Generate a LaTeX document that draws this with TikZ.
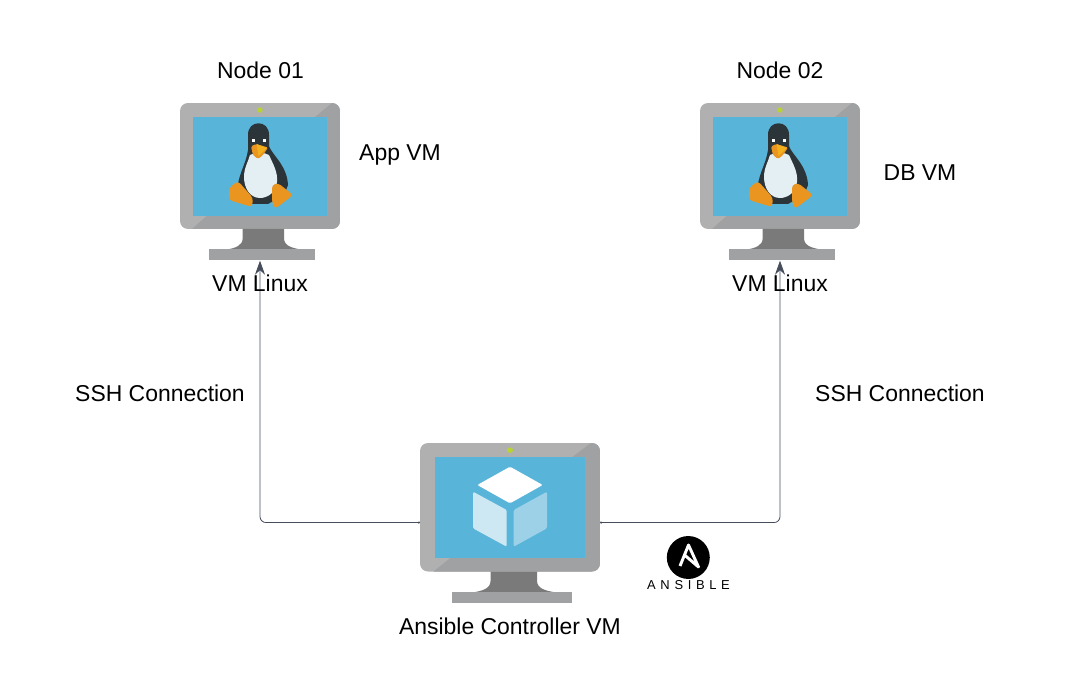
\documentclass[tikz,border=0pt]{standalone}
\usepackage{fontspec}
\setmainfont{Liberation Sans}
\usetikzlibrary{arrows.meta}

\definecolor{framelight}{RGB}{176,176,176}
\definecolor{framedark}{RGB}{160,161,162}
\definecolor{neckgray}{RGB}{122,122,122}
\definecolor{screenblue}{RGB}{89,180,217}
\definecolor{leddot}{RGB}{184,212,50}
\definecolor{tuxdark}{RGB}{42,52,57}
\definecolor{tuxbelly}{RGB}{228,239,244}
\definecolor{tuxorange}{RGB}{233,149,31}
\definecolor{tuxbeak}{RGB}{242,176,30}
\definecolor{cubeleft}{RGB}{205,232,243}
\definecolor{cuberight}{RGB}{157,209,232}
\definecolor{linkgray}{RGB}{70,78,92}

\tikzset{
  lbl/.style={font=\fontsize{17.2pt}{19pt}\selectfont, text=black, inner sep=0.75pt},
  sshlink/.style={draw=linkgray, line width=0.6pt, rounded corners=4.5pt, {Circle[length=1.6pt]}-{Stealth[length=10.5pt,width=7.5pt]}},
  vmbox/.pic={
    %Frame
    \begin{scope}
      \clip[rounded corners=6pt] (0,0) rectangle (160,126);
      \fill[framelight] (0,0) rectangle (160,126);
      \fill[framedark] (152,0) -- (135,14) -- (27,112.7) -- (12,126) -- (160,126) -- (160,0) -- cycle;
    \end{scope}
    %Screen
    \fill[screenblue] (13,14) rectangle (147,112.7);
    \fill[leddot] (80,7) circle (2pt);
    %Neck and base
    \fill[neckgray] (62.7,126) -- (62.7,135) .. controls (62.7,143) and (55,145) .. (47,146.5) -- (121,146.5) .. controls (112,145) and (104,143) .. (104,135) -- (104,126) -- cycle;
    \fill[framedark] (28.7,146.3) rectangle (134.7,156.7);
    \coordinate (-west) at (0,78);
    \coordinate (-east) at (160,78);
    \coordinate (-foot) at (80,157.7);
  },
  tux/.pic={
    %Body
    \fill[tuxdark] (248,135) .. controls (248,127) and (253,123.3) .. (258.5,123.3) .. controls (264,123.3) and (269,127) .. (269,135)
      -- (269,146) .. controls (272,155) and (287,165) .. (288,185) -- (284,195) -- (268,204) -- (250,204) -- (238,192) .. controls (236,178) and (246,165) .. (248,150) -- cycle;
    %Belly
    \fill[tuxbelly] (250,155) .. controls (255,152) and (264,152) .. (269,155) .. controls (273,164) and (278,172) .. (277,182) .. controls (276,192) and (268,198) .. (260,198) .. controls (250,198) and (244,188) .. (244,177) .. controls (244,168) and (248,162) .. (250,155) -- cycle;
    %Feet
    \fill[tuxorange, rounded corners=2.5pt] (229,188) -- (238,181) -- (253,198) -- (252,207) -- (229,200) -- cycle;
    \fill[tuxorange, rounded corners=2.5pt] (272,185) -- (278,183) -- (293,195) -- (275,209) -- (272,202) -- cycle;
    %Beak and eyes
    \fill[tuxorange, rounded corners=1pt] (251,146.5) -- (256,144) -- (268,147.5) -- (263,155) -- (258,159) -- (253,155) -- cycle;
    \fill[tuxbeak] (256.5,144) -- (267,148) -- (258.5,156) -- cycle;
    \fill[white] (252,139) rectangle (255,142);
    \fill[white] (263,139) rectangle (266,142);
  }
}

\begin{document}
\begin{tikzpicture}[x=0.75pt,y=0.75pt,yscale=-1,xscale=1]
    \useasboundingbox (0,0) rectangle (1080,673);

    %Monitors
    \pic[yscale=-1] (vmone) at (180,103) {vmbox};
    \pic[yscale=-1] (vmtwo) at (700,103) {vmbox};
    \pic[xscale=1.125,yscale=-1.02] (ctrl) at (420,443) {vmbox};

    %Penguins
    \pic[yscale=-1] at (0,0) {tux};
    \pic[yscale=-1] at (520,0) {tux};

    %Cube
    \fill[white, rounded corners=1pt] (510,466.7) -- (542.7,485) -- (510,503.3) -- (477.3,485) -- cycle;
    \fill[cubeleft, rounded corners=1pt] (473,491.7) -- (506.7,510) -- (506.7,546.7) -- (473,528.3) -- cycle;
    \fill[cuberight, rounded corners=1pt] (547,491.7) -- (513.7,510) -- (513.7,546.7) -- (547,528.3) -- cycle;

    %Straight Lines
    \draw[sshlink] (ctrl-west) -| (vmone-foot);
    \draw[sshlink] (ctrl-east) -| (vmtwo-foot);

    %Ansible logo
    \fill[black] (688.3,557.5) circle (16.1pt);
    \draw[white, line width=2.2pt, line join=round] (680,566) -- (688.5,545) -- (698.5,567) -- (684.5,555);

    % Text Node
    \node (nodeone) [lbl] at (260.5,70) {Node 01};
    \node (nodetwo) [lbl] at (780,70) {Node 02};
    \node (appvm) [lbl] at (400,155) {App VM};
    \node (dbvm) [lbl] at (920,173) {DB VM};
    \node (linuxone) [lbl] at (260,283) {VM Linux};
    \node (linuxtwo) [lbl] at (780,283) {VM Linux};
    \node (sshone) [lbl] at (160,393) {SSH Connection};
    \node (sshtwo) [lbl] at (900,393) {SSH Connection};
    \node (ctrllabel) [lbl] at (510,626) {Ansible Controller VM};
    \node (ansible) [inner sep=0pt, font=\fontsize{9.7pt}{11pt}\selectfont\addfontfeature{LetterSpace=36}] at (688.5,585) {ANSIBLE};
\end{tikzpicture}
\end{document}
